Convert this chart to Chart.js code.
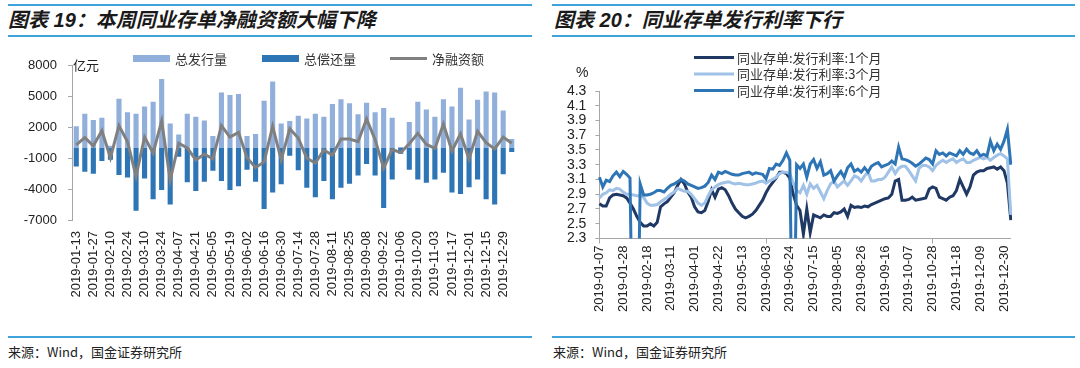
<!DOCTYPE html>
<html><head><meta charset="utf-8">
<script src="https://cdn.jsdelivr.net/npm/chart.js@4"></script>
<style>
html,body{margin:0;padding:0;background:#fff;}
body{width:1080px;height:368px;position:relative;overflow:hidden;font-family:"Liberation Sans","Noto Sans CJK SC",sans-serif;}
.rule{position:absolute;height:2px;background:#3fa3db;}
.title{position:absolute;font-size:20px;font-weight:bold;font-style:italic;color:#1a1a1a;white-space:nowrap;line-height:24px;}
.src{position:absolute;font-size:13px;color:#222;white-space:nowrap;line-height:16px;font-family:"Noto Sans CJK SC",sans-serif;}
.unit{position:absolute;color:#222;white-space:nowrap;line-height:16px;}
canvas{position:absolute;}
</style></head>
<body>
<div class="rule" style="left:8px;top:4px;width:524px"></div>
<div class="title" style="left:8px;top:8px">图表 19：本周同业存单净融资额大幅下降</div>
<div class="rule" style="left:8px;top:35px;width:524px"></div>
<div class="rule" style="left:552px;top:4px;width:523px"></div>
<div class="title" style="left:554px;top:8px">图表 20：同业存单发行利率下行</div>
<div class="rule" style="left:552px;top:35px;width:523px"></div>

<canvas id="c1" width="540" height="280" style="left:0;top:40px;width:540px;height:280px"></canvas>
<canvas id="c2" width="540" height="280" style="left:540px;top:40px;width:540px;height:280px"></canvas>

<div class="unit" style="left:73px;top:57px;font-size:13px;font-family:'Noto Sans CJK SC',sans-serif">亿元</div>
<div class="unit" style="left:576px;top:64px;font-size:14px">%</div>

<div class="rule" style="left:8px;top:336px;width:524px"></div>
<div class="src" style="left:8px;top:344px">来源：Wind，国金证券研究所</div>
<div class="rule" style="left:552px;top:336px;width:523px"></div>
<div class="src" style="left:553px;top:344px">来源：Wind，国金证券研究所</div>

<script>
// ---------- Chart 19 data ----------
const weeks = ['2019-01-13','2019-01-20','2019-01-27','2019-02-03','2019-02-10','2019-02-17','2019-02-24','2019-03-03','2019-03-10','2019-03-17',
 '2019-03-24','2019-03-31','2019-04-07','2019-04-14','2019-04-21','2019-04-28','2019-05-05','2019-05-12','2019-05-19','2019-05-26',
 '2019-06-02','2019-06-09','2019-06-16','2019-06-23','2019-06-30','2019-07-07','2019-07-14','2019-07-21','2019-07-28','2019-08-04',
 '2019-08-11','2019-08-18','2019-08-25','2019-09-01','2019-09-08','2019-09-15','2019-09-22','2019-09-29','2019-10-06','2019-10-13',
 '2019-10-20','2019-10-27','2019-11-03','2019-11-10','2019-11-17','2019-11-24','2019-12-01','2019-12-08','2019-12-15','2019-12-22',
 '2019-12-29','2020-01-05'];
const issuance = [2100,3300,2700,2900,200,4750,3450,3300,4000,4450,
 6650,2350,1300,3300,3000,2650,1150,5350,5100,5200,
 1150,1350,4550,6400,2350,2600,3100,2850,3300,3000,
 4250,4700,4300,3250,4350,3450,3850,2900,100,2500,
 4450,3700,3000,4700,4000,5800,2750,4650,5450,5350,
 3600,850];
const repayment = [-1800,-2300,-2500,-1250,-1150,-2600,-2850,-6050,-2950,-4950,
 -4050,-5450,-850,-3300,-4150,-3250,-2200,-3200,-4050,-3700,
 -2100,-3250,-5900,-4300,-3500,-750,-2150,-3850,-4750,-3200,
 -4950,-3850,-3450,-2650,-1550,-2650,-5800,-3050,-550,-2100,
 -3050,-3350,-3050,-2400,-4300,-4450,-3800,-3050,-4950,-5450,
 -2550,-400];
const netFinancing = [300,1000,200,1650,-950,2150,600,-2750,1050,-500,
 2600,-3100,450,0,-1150,-600,-1050,2150,1050,1500,
 -950,-1900,-1350,2100,-1150,1850,950,-1000,-1450,-200,
 -700,850,850,600,2800,800,-1950,-150,-450,400,
 1400,350,-50,2300,-300,1350,-1050,1600,500,-100,
 1050,450];
const amountTicks = [8000,5000,2000,-1000,-4000,-7000];

// ---------- Chart 20 data (sampled every 3 days from 2019-01-07) ----------
const rateStart = '2019-01-07';
const rateTickLabels = ['2019-01-07','2019-01-28','2019-02-18','2019-03-11','2019-04-01','2019-04-22','2019-05-13','2019-06-03','2019-06-24',
 '2019-07-15','2019-08-05','2019-08-26','2019-09-16','2019-10-07','2019-10-28','2019-11-18','2019-12-09','2019-12-30'];
const rate1M = [2.77,2.74,2.74,2.85,2.89,2.90,2.89,2.88,2.85,2.78,
 2.70,2.60,2.52,2.47,2.47,2.50,2.47,2.52,2.73,2.77,
 2.80,2.86,2.92,3.02,3.10,3.04,2.93,2.86,2.73,2.66,
 2.65,2.68,2.80,2.96,2.86,2.97,2.99,2.96,2.88,2.78,
 2.70,2.65,2.60,2.58,2.60,2.63,2.68,2.75,2.82,2.92,
 3.00,3.06,3.12,3.20,3.20,3.18,3.12,2.90,2.75,2.68,
 2.36,2.70,2.38,2.62,2.60,2.58,2.62,2.60,2.60,2.65,
 2.64,2.66,2.70,2.60,2.75,2.72,2.73,2.72,2.74,2.73,
 2.76,2.78,2.80,2.82,2.84,2.85,2.90,3.08,3.10,2.82,
 2.82,2.83,2.86,2.82,2.83,2.84,2.85,2.97,3.00,2.98,
 2.86,2.84,2.82,2.86,2.88,2.95,3.10,3.00,2.90,3.00,
 3.16,3.20,3.22,3.22,3.25,3.26,3.27,3.24,3.27,3.22,
 3.05,2.55];
const rate3M = [2.85,2.90,2.92,2.96,2.95,2.98,2.97,2.93,2.90,2.90,
 2.89,2.88,2.88,2.86,2.78,2.75,2.75,2.76,2.80,2.83,
 2.86,2.90,2.93,2.98,2.96,2.94,2.94,2.90,2.84,2.78,
 2.75,2.78,2.88,2.96,3.00,3.03,3.05,3.06,3.07,3.05,
 3.04,3.05,3.04,3.03,3.03,3.04,3.05,3.07,3.08,3.05,
 3.08,3.10,3.13,3.18,3.20,3.20,3.18,3.05,2.95,2.92,
 3.02,2.90,3.04,2.98,3.02,2.93,2.84,2.95,3.04,3.08,
 3.00,3.04,3.08,3.02,3.08,3.15,3.13,3.08,3.15,3.20,
 3.08,3.08,3.10,3.10,3.13,3.20,3.27,3.18,3.25,3.28,
 3.28,3.22,3.15,3.08,3.25,3.29,3.29,3.27,3.22,3.29,
 3.33,3.36,3.33,3.36,3.38,3.33,3.36,3.38,3.33,3.33,
 3.36,3.38,3.40,3.38,3.40,3.36,3.40,3.43,3.45,3.42,
 3.38,2.62];
const rate6M = [3.13,3.00,3.09,3.07,3.15,3.20,3.14,3.21,3.17,3.12,
 0,0,3.04,2.89,2.89,2.90,2.92,2.95,2.95,2.93,
 2.98,3.02,3.04,3.07,3.10,3.08,3.04,3.02,3.00,2.98,
 2.99,3.01,3.06,3.16,3.10,3.20,3.18,3.21,3.19,3.17,
 3.16,3.16,3.18,3.19,3.20,3.17,3.19,3.18,3.17,3.11,
 3.25,3.24,3.31,3.29,3.36,3.46,3.36,0,3.30,3.25,
 3.31,3.13,3.31,3.37,3.25,3.34,3.16,3.18,3.22,3.08,
 3.15,3.21,3.13,3.26,3.31,3.21,3.24,3.20,3.26,3.20,
 3.28,3.31,3.33,3.27,3.29,3.31,3.35,3.31,3.54,3.38,
 3.37,3.35,3.32,3.28,3.31,3.35,3.39,3.37,3.31,3.49,
 3.44,3.46,3.42,3.46,3.44,3.42,3.49,3.44,3.51,3.46,
 3.44,3.49,3.42,3.44,3.42,3.62,3.49,3.58,3.51,3.62,
 3.78,3.30];
const rateAxisTicks = [2.3,2.5,2.7,2.9,3.1,3.3,3.5,3.7,3.9,4.1,4.3];

const rateDates = rate1M.map((_, i) => {
  const d = new Date(rateStart + 'T00:00:00Z');
  d.setUTCDate(d.getUTCDate() + 3 * i);
  return d.toISOString().slice(0, 10);
});

Chart.defaults.font.family = '"Liberation Sans","Noto Sans CJK SC",sans-serif';
Chart.defaults.animation = false;
Chart.defaults.events = [];

const manualLegend = {
  id: 'manualLegend',
  afterDraw(chart, args, opts) {
    const ctx = chart.ctx;
    ctx.save();
    ctx.font = opts.font;
    ctx.textBaseline = 'middle';
    ctx.textAlign = 'left';
    opts.items.forEach(it => {
      const ds = chart.data.datasets[it.dataset];
      if (it.kind === 'box') {
        ctx.fillStyle = ds.backgroundColor;
        ctx.fillRect(it.x, it.y - it.h / 2, it.w, it.h);
      } else {
        ctx.strokeStyle = ds.borderColor;
        ctx.lineWidth = it.h;
        ctx.beginPath();
        ctx.moveTo(it.x, it.y);
        ctx.lineTo(it.x + it.w, it.y);
        ctx.stroke();
      }
      ctx.fillStyle = opts.color;
      ctx.fillText(ds.label, it.x + it.w + it.gap, it.y + 0.5);
    });
    ctx.restore();
  }
};

const AXIS = '#a6a6a6';

new Chart(document.getElementById('c1'), {
  type: 'bar',
  data: {
    labels: weeks,
    datasets: [
      { label: '总发行量', data: issuance, backgroundColor: '#91afdb', barPercentage: 0.6, categoryPercentage: 1.0, order: 1 },
      { label: '总偿还量', data: repayment, backgroundColor: '#2e75b6', barPercentage: 0.6, categoryPercentage: 1.0, order: 1 },
      { type: 'line', label: '净融资额', data: netFinancing, borderColor: '#808080', backgroundColor: '#808080',
        borderWidth: 3, pointRadius: 0, tension: 0, order: 0 }
    ]
  },
  options: {
    responsive: false,
    layout: { padding: { left: 0, right: 24, top: 25, bottom: 0 } },
    plugins: {
      legend: { display: false },
      tooltip: { enabled: false },
      manualLegend: {
        font: '13px "Noto Sans CJK SC", sans-serif', color: '#333',
        items: [
          { dataset: 0, kind: 'box', x: 133, y: 18.5, w: 37, h: 7, gap: 5 },
          { dataset: 1, kind: 'box', x: 262, y: 18.5, w: 37, h: 7, gap: 5 },
          { dataset: 2, kind: 'line', x: 390, y: 18.5, w: 37, h: 3, gap: 5 }
        ]
      }
    },
    scales: {
      x: {
        stacked: true,
        offset: true,
        afterFit: s => { s.height = 99.5; },
        grid: { display: false, drawTicks: false },
        border: { display: false },
        ticks: {
          autoSkip: false, maxRotation: 90, minRotation: 90, padding: 10.5,
          color: '#222', font: { size: 13 },
          callback: (v, i) => (i % 2 === 0 ? weeks[i] : null)
        }
      },
      y: {
        stacked: false,
        min: -7000, max: 8000,
        afterFit: s => { s.width = 72; },
        afterBuildTicks: s => { s.ticks = amountTicks.slice().reverse().map(v => ({ value: v })); },
        ticks: { autoSkip: false, color: '#222', font: { size: 13 }, padding: 11, callback: v => String(v) },
        grid: {
          drawOnChartArea: true,
          color: c => (c.tick && c.tick.value === 0 ? AXIS : 'rgba(0,0,0,0)'),
          lineWidth: c => (c.tick && c.tick.value === 0 ? 2 : 1),
          tickColor: AXIS, tickLength: 4, tickWidth: 1
        },
        border: { display: true, color: AXIS, width: 1 }
      }
    }
  },
  plugins: [manualLegend]
});

new Chart(document.getElementById('c2'), {
  type: 'line',
  data: {
    labels: rateDates,
    datasets: [
      { label: '同业存单:发行利率:1个月', data: rate1M, borderColor: '#1f3864', backgroundColor: '#1f3864', borderWidth: 3, pointRadius: 0, tension: 0, order: 3 },
      { label: '同业存单:发行利率:3个月', data: rate3M, borderColor: '#9fc2e6', backgroundColor: '#9fc2e6', borderWidth: 3, pointRadius: 0, tension: 0, order: 2 },
      { label: '同业存单:发行利率:6个月', data: rate6M, borderColor: '#2e75b6', backgroundColor: '#2e75b6', borderWidth: 3, pointRadius: 0, tension: 0, order: 1 }
    ]
  },
  options: {
    responsive: false,
    layout: { padding: { left: 0, right: 69.2, top: 51, bottom: 0 } },
    plugins: {
      legend: { display: false },
      tooltip: { enabled: false },
      manualLegend: {
        font: '13px "Noto Sans CJK SC", sans-serif', color: '#333',
        items: [
          { dataset: 0, kind: 'line', x: 154, y: 17.5, w: 40, h: 3, gap: 3 },
          { dataset: 1, kind: 'line', x: 154, y: 34, w: 40, h: 3, gap: 3 },
          { dataset: 2, kind: 'line', x: 154, y: 50.5, w: 40, h: 3, gap: 3 }
        ]
      }
    },
    scales: {
      x: {
        type: 'category',
        offset: false,
        afterFit: s => { s.height = 81.5; },
        grid: {
          drawOnChartArea: false, drawTicks: true, tickLength: 5,
          tickColor: c => (c.index % 7 === 0 ? AXIS : 'rgba(0,0,0,0)')
        },
        border: { display: true, color: AXIS, width: 1 },
        ticks: {
          autoSkip: false, maxRotation: 90, minRotation: 90, padding: 2,
          color: '#222', font: { size: 13 },
          callback: (v, i) => (i % 7 === 0 ? rateTickLabels[i / 7] : null)
        }
      },
      y: {
        min: 2.3, max: 4.3,
        afterFit: s => { s.width = 59.4; },
        afterBuildTicks: s => { s.ticks = rateAxisTicks.map(v => ({ value: v })); },
        ticks: { autoSkip: false, color: '#222', font: { size: 14 }, padding: 9, callback: v => Number(v).toFixed(1) },
        grid: { drawOnChartArea: false, tickColor: AXIS, tickLength: 4 },
        border: { display: true, color: AXIS, width: 1 }
      }
    }
  },
  plugins: [manualLegend]
});
</script>
</body></html>
